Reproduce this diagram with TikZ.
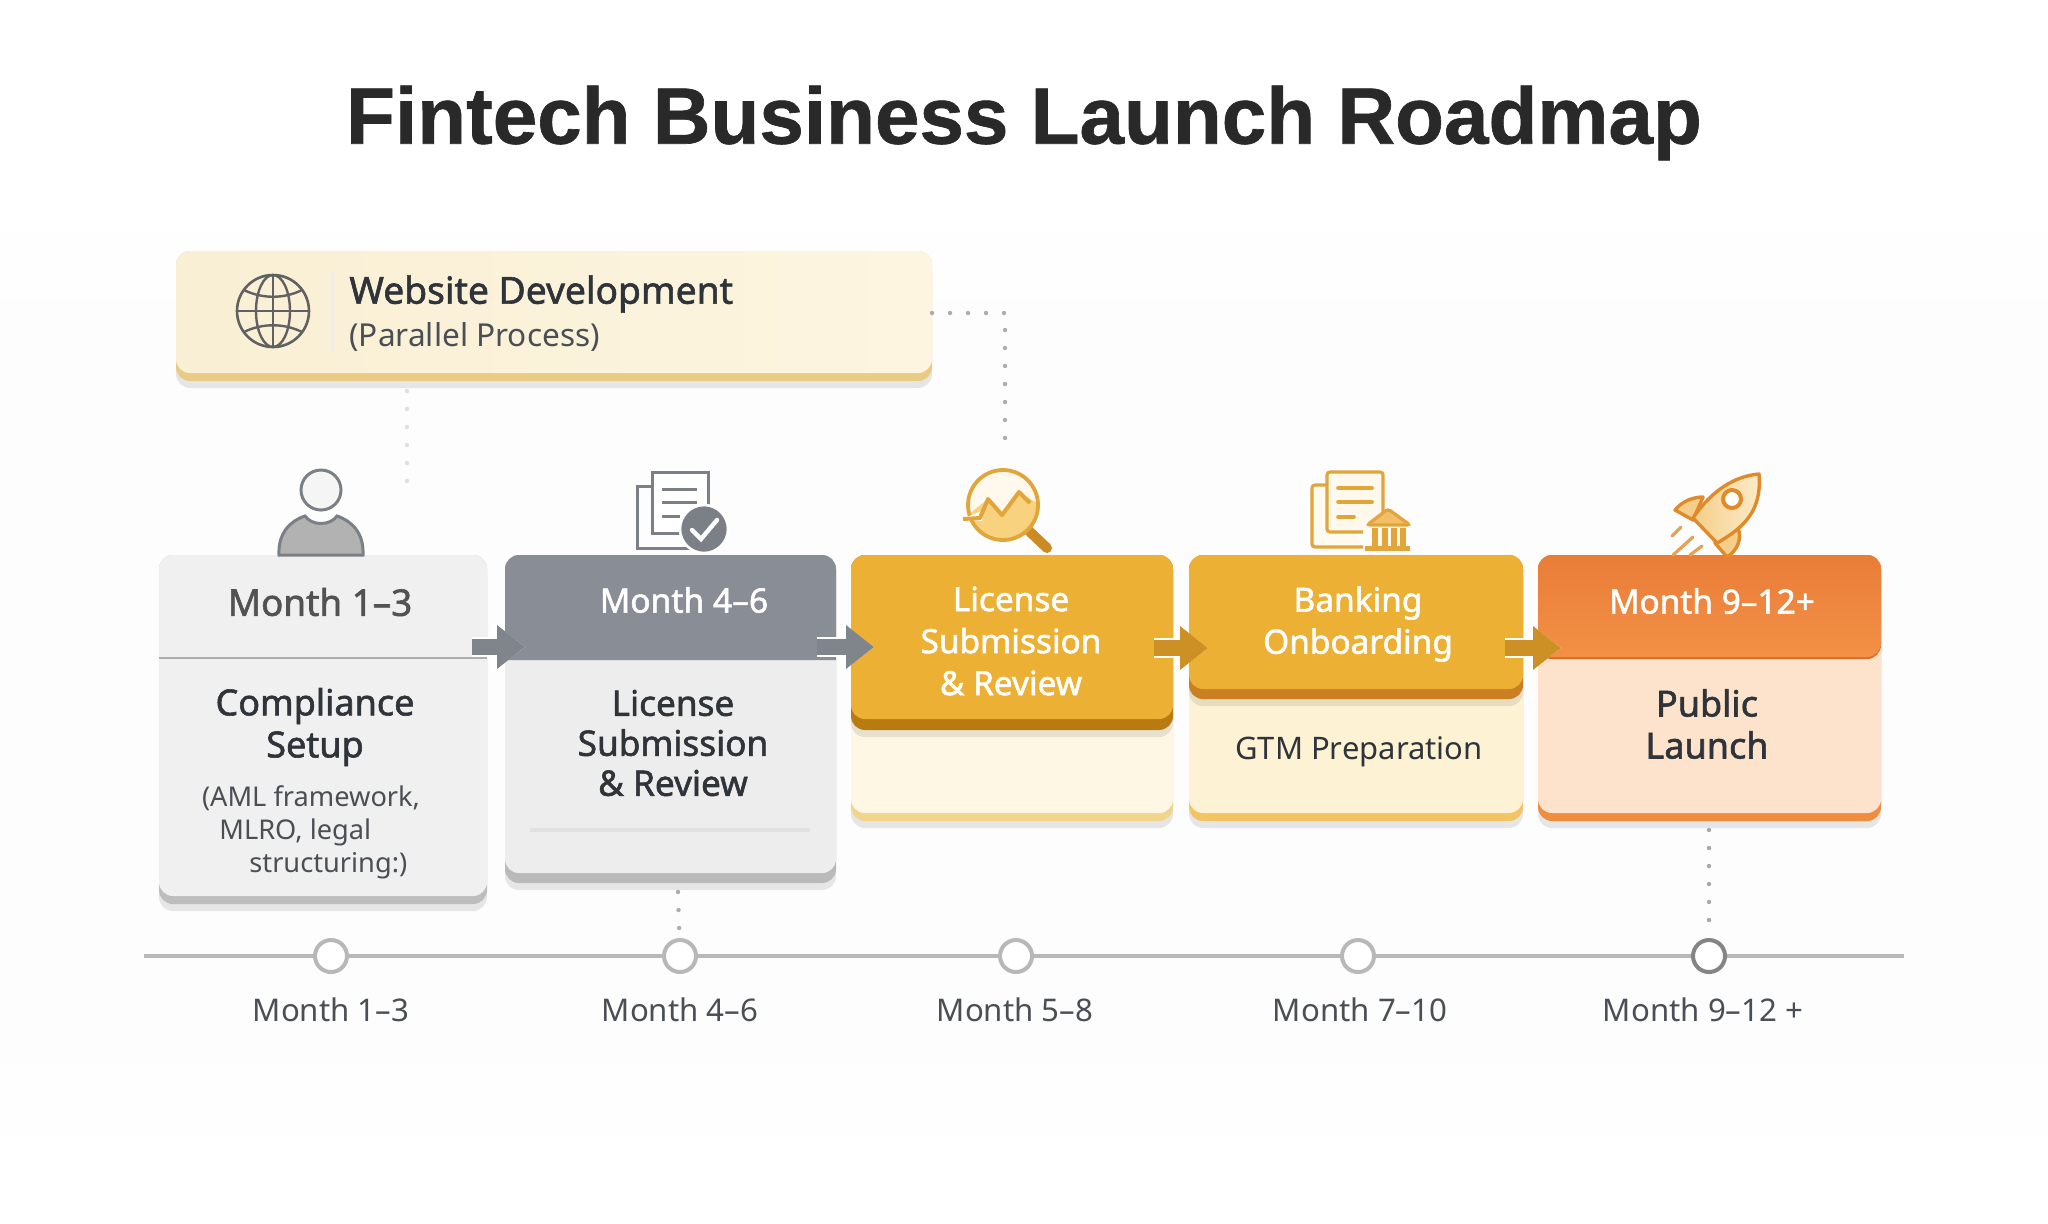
\documentclass[tikz,border=0pt]{standalone}
\usepackage{fontspec}
\setmainfont{Noto Sans}
\newfontfamily\titlefont{Liberation Sans}[BoldFeatures={FakeBold=0.8}]
\newfontfamily\medfont{Noto Sans}[FakeBold=1.6]
\usetikzlibrary{arrows.meta,shadows}

\definecolor{inkdark}{HTML}{2F343B}
\definecolor{inkmid}{HTML}{4A4E55}
\definecolor{greyicon}{HTML}{7B7F86}
\definecolor{greyhead}{HTML}{898D95}
\definecolor{greyarrow}{HTML}{80848B}
\definecolor{amber}{HTML}{ECB035}
\definecolor{amberdark}{HTML}{B97A12}
\definecolor{amberline}{HTML}{E2A53A}
\definecolor{amberarrow}{HTML}{CC9024}
\definecolor{orangeline}{HTML}{E08A2A}
\definecolor{webstrip}{HTML}{E8CB85}
\definecolor{webleft}{HTML}{F9EFD4}
\definecolor{webright}{HTML}{FDF5E0}
\definecolor{softC}{HTML}{F2D48C}
\definecolor{paleC}{HTML}{FEF7E3}
\definecolor{softD}{HTML}{F2C463}
\definecolor{paleD}{HTML}{FDF2D3}
\definecolor{darkD}{HTML}{C97F22}
\definecolor{softE}{HTML}{F08C3E}
\definecolor{paleE}{HTML}{FDE3CB}
\definecolor{darkE}{HTML}{D96E2A}
\definecolor{topE}{HTML}{E97D38}
\definecolor{lowE}{HTML}{F39046}
\definecolor{handle}{HTML}{CB8A24}
\definecolor{warm}{HTML}{F8D27F}
\definecolor{tintA}{HTML}{FFFAF0}
\definecolor{tintB}{HTML}{FFF8EC}
\definecolor{bank}{HTML}{F3BE68}
\definecolor{fin}{HTML}{F5CF8A}
\definecolor{nose}{HTML}{FDEBCB}

\tikzset{
	cardbase/.style={rectangle, rounded corners=7pt, inner sep=0pt, outer sep=0pt, drop shadow={shadow xshift=0pt, shadow yshift=-3.5pt, fill=black, opacity=0.09}},
	cardface/.style={rectangle, rounded corners=7pt, inner sep=0pt, outer sep=0pt},
	stepname/.style={font=\medfont\fontsize{18}{21}\selectfont, text=inkdark, align=center, inner sep=0pt},
	whitename/.style={font=\medfont\fontsize{16.7}{21}\selectfont, text=white, align=center, inner sep=0pt},
	detail/.style={font=\fontsize{13.6}{17}\selectfont, text=inkmid, inner sep=0pt},
	ticklabel/.style={font=\fontsize{15.6}{18}\selectfont, text=inkmid, inner sep=0pt},
	tickmark/.style={circle, draw=#1, line width=2pt, fill=white, minimum size=16pt, inner sep=0pt},
	dotline/.style={line width=2.2pt, line cap=round, dash pattern=on 0pt off 9pt, draw=#1},
	flowhalo/.style={line width=10pt, white, -{Triangle[length=17pt, width=25pt]}},
	flowarrow/.style={line width=8pt, draw=#1, -{Triangle[length=14pt, width=21pt, fill=#1]}},
	greyline/.style={draw=greyicon, line width=1.5pt},
	amberpen/.style={draw=amberline, line width=1.6pt, rounded corners=1.5pt},
	rocketpen/.style={draw=orangeline, line width=1.7pt, line join=round},
	trail/.style={draw=orangeline!80!white, line width=1.6pt, line cap=round},
}

\begin{document}
\begin{tikzpicture}[x=0.5pt, y=-0.5pt]
	\useasboundingbox (0,0) rectangle (2048,1223);
	\fill[white] (0,0) rectangle (2048,1223);
	\shade[top color=white, bottom color=black!0.6] (0,200) rectangle (2048,300);
	\fill[black!0.6] (0,300) rectangle (2048,1060);
	\shade[top color=black!0.6, bottom color=white] (0,1060) rectangle (2048,1170);

	\node[font=\titlefont\bfseries\fontsize{40}{48}\selectfont, text=black!84, inner sep=0pt] (title) at (1024,123) {Fintech Business Launch Roadmap};

	% website bar
	\node[cardbase, fill=webstrip, minimum width=378pt, minimum height=65pt] (webbase) at (554,316) {};
	\node[cardface, left color=webleft, right color=webright, minimum width=378pt, minimum height=61pt] (webface) at (554,312) {};
	\draw[black!8, line width=1pt] (333,272)--(333,352);
	\draw[draw=black!62, line width=1.3pt] (273,311) circle (36);
	\draw[draw=black!62, line width=1.2pt] (273,311) ellipse (17 and 36);
	\draw[draw=black!62, line width=1.2pt] (273,275)--(273,347);
	\draw[draw=black!62, line width=1.2pt] (237,311)--(309,311);
	\draw[draw=black!62, line width=1.2pt] (244,290) .. controls (262,299) and (284,299) .. (302,290);
	\draw[draw=black!62, line width=1.2pt] (244,332) .. controls (262,323) and (284,323) .. (302,332);
	\node[font=\medfont\fontsize{18.6}{22}\selectfont, text=inkdark, anchor=west, inner sep=0pt] (webname) at (349,294) {Website Development};
	\node[font=\fontsize{15.8}{20}\selectfont, text=inkmid, anchor=west, inner sep=0pt] (webnote) at (349,337) {(Parallel Process)};

	% cards
	\node[cardbase, fill=black!26, minimum width=164pt, minimum height=174.5pt] (baseA) at (323,729.5) {};
	\node[cardface, fill=black!6, minimum width=164pt, minimum height=170.5pt] (faceA) at (323,725.5) {};
	\draw[black!32, line width=1.2pt] (faceA.west |- 0,658)--(faceA.east |- 0,658);

	\node[cardbase, fill=black!27, minimum width=165.5pt, minimum height=164pt] (baseB) at (670.5,719) {};
	\node[cardface, fill=black!7, minimum width=165.5pt, minimum height=159pt] (faceB) at (670.5,714) {};
	\fill[greyhead] (505,660) [rounded corners=7pt] -- (505,555) -- (836,555) [sharp corners] -- (836,660) -- cycle;
	\draw[black!12, line width=2pt] (530,830)--(810,830);

	\node[cardbase, fill=softC, minimum width=161pt, minimum height=133pt] (baseC) at (1012,688) {};
	\node[cardface, fill=paleC, minimum width=161pt, minimum height=129pt] (faceC) at (1012,684) {};
	\node[cardbase, fill=amberdark, minimum width=161pt, minimum height=87.5pt] (headC) at (1012,642.5) {};
	\node[cardface, fill=amber, minimum width=161pt, minimum height=82pt] (topC) at (1012,637) {};

	\node[cardbase, fill=softD, minimum width=167pt, minimum height=133pt] (baseD) at (1356,688) {};
	\node[cardface, fill=paleD, minimum width=167pt, minimum height=129pt] (faceD) at (1356,684) {};
	\node[cardbase, fill=darkD, minimum width=167pt, minimum height=72pt] (headD) at (1356,627) {};
	\node[cardface, fill=amber, minimum width=167pt, minimum height=67pt] (topD) at (1356,622) {};

	\node[cardbase, fill=softE, minimum width=171.5pt, minimum height=133pt] (baseE) at (1709.5,688) {};
	\node[cardface, fill=paleE, minimum width=171.5pt, minimum height=129pt] (faceE) at (1709.5,684) {};
	\node[cardface, fill=darkE, minimum width=171.5pt, minimum height=52pt] (headE) at (1709.5,607) {};
	\node[cardface, top color=topE, bottom color=lowE, minimum width=171.5pt, minimum height=51pt] (topE) at (1709.5,606) {};

	% card text
	\node[stepname, font=\medfont\fontsize{18.4}{21}\selectfont, text=black!68] (monthA) at (320,602) {Month 1–3};
	\node[stepname] (nameA) at (315,727) {Compliance\\Setup};
	\node[detail] (noteA) at (311,798) {(AML framework,};
	\node[detail, anchor=west] (noteB) at (219,832) {MLRO, legal};
	\node[detail, anchor=west] (noteC) at (249,866) {structuring:)};

	\node[whitename, font=\medfont\fontsize{16.8}{21}\selectfont] (monthB) at (684,600) {Month 4–6};
	\node[stepname, font=\medfont\fontsize{17.6}{20}\selectfont] (nameB) at (673,743) {License\\Submission\\\& Review};

	\node[whitename] (nameC) at (1011,641) {License\\Submission\\\& Review};
	\node[whitename] (nameD) at (1358,624) {Banking\\Onboarding};
	\node[font=\fontsize{15.5}{19}\selectfont, text=inkdark, inner sep=0pt] (noteD) at (1359,752) {GTM Preparation};
	\node[whitename] (monthE) at (1712,601) {Month 9–12+};
	\node[stepname] (nameE) at (1707,724) {Public\\Launch};

	% block arrows
	\coordinate (outA) at (472,647); \coordinate (inB) at (525,647);
	\coordinate (outB) at (817,647); \coordinate (inC) at (874,647);
	\coordinate (outC) at (1154,648); \coordinate (inD) at (1208,648);
	\coordinate (outD) at (1505,648); \coordinate (inE) at (1561,648);
	\draw[flowhalo] (outA)--(inB);
	\draw[flowarrow=greyarrow] (outA)--(inB);
	\draw[flowhalo] (outB)--(inC);
	\draw[flowarrow=greyarrow] (outB)--(inC);
	\draw[flowhalo] (outC)--(inD);
	\draw[flowarrow=amberarrow] (outC)--(inD);
	\draw[flowhalo] (outD)--(inE);
	\draw[flowarrow=amberarrow] (outD)--(inE);

	% person
	\draw[greyline, fill=black!4] (321,490) circle (20);
	\draw[greyline, fill=black!30] (279,555) .. controls (278,533) and (290,521) .. (305,516) .. controls (312,526) and (330,526) .. (337,516) .. controls (352,521) and (364,533) .. (363,555) -- cycle;

	% documents with check
	\draw[greyline] (652,486)--(637,486)--(637,548)--(690,548);
	\draw[greyline, fill=white] (652,472) rectangle (708,533);
	\draw[greyline] (662,489)--(697,489);
	\draw[greyline] (662,502)--(697,502);
	\draw[greyline] (662,516)--(680,516);
	\draw[draw=white, line width=1.3pt, fill=greyicon] (704,529) circle (24);
	\draw[white, line width=2.2pt, line cap=round] (692,530)--(701,539)--(717,520);

	% magnifier
	\draw[draw=handle, line width=5pt, line cap=round] (1028,530)--(1047,548);
	\fill[tintB] (1003,505) circle (35);
	\begin{scope}
		\clip (1003,505) circle (35);
		\fill[warm] (963,519)--(988,499)--(1002,515)--(1019,492)--(1040,505)--(1040,545)--(963,545)--cycle;
	\end{scope}
	\draw[draw=amberline, line width=1.9pt] (1003,505) circle (35);
	\fill[white] (962,519)--(984,510)--(982,521)--cycle;
	\draw[draw=amberline, line width=2pt, line join=round] (963,519)--(980,518)--(988,499)--(1002,515)--(1019,492)--(1030,503);

	% documents with bank
	\draw[amberpen, fill=tintA] (1327,485)--(1312,485)--(1312,547)--(1363,547);
	\draw[amberpen, fill=tintB] (1363,532)--(1327,532)--(1327,472)--(1383,472)--(1383,512);
	\draw[amberpen, line cap=round, line width=1.8pt] (1338,488)--(1372,488);
	\draw[amberpen, line cap=round, line width=1.8pt] (1338,502)--(1372,502);
	\draw[amberpen, line cap=round, line width=1.8pt] (1338,517)--(1354,517);
	\draw[amberpen, fill=bank] (1367,525)--(1388,509)--(1410,525)--cycle;
	\fill[tintB] (1372,527) rectangle (1405,546);
	\draw[draw=amberline, line width=2.6pt] (1375,528)--(1375,546);
	\draw[draw=amberline, line width=2.6pt] (1385,528)--(1385,546);
	\draw[draw=amberline, line width=2.6pt] (1394,528)--(1394,546);
	\draw[draw=amberline, line width=2.6pt] (1403,528)--(1403,546);
	\fill[amberline] (1365,546) rectangle (1410,551);

	% rocket
	\draw[rocketpen, fill=fin] (1703,497) .. controls (1695,497) and (1683,500) .. (1675,510) -- (1693,520) -- cycle;
	\draw[rocketpen, fill=fin] (1738,528) .. controls (1742,538) and (1738,550) .. (1727,557) -- (1715,543) -- cycle;
	\draw[rocketpen, left color=fin, right color=nose] (1759,474) .. controls (1735,476) and (1712,490) .. (1693,518) -- (1717,543) .. controls (1745,527) and (1762,510) .. (1759,474) -- cycle;
	\draw[rocketpen, line width=2pt, fill=white] (1732,499) circle (9);
	\draw[trail] (1672,536)--(1681,527);
	\draw[trail] (1673,555)--(1693,537);
	\draw[trail] (1690,555)--(1702,546);

	% timeline
	\coordinate (lineL) at (144,956); \coordinate (lineR) at (1904,956);
	\draw[draw=black!28, line width=2pt] (lineL)--(lineR);
	\node[tickmark=black!28] (tickA) at (331,956) {};
	\node[tickmark=black!28] (tickB) at (680,956) {};
	\node[tickmark=black!28] (tickC) at (1016,956) {};
	\node[tickmark=black!28] (tickD) at (1358,956) {};
	\node[tickmark=black!48] (tickE) at (1709,956) {};
	\node[ticklabel] (labelA) at (331,1010) {Month 1–3};
	\node[ticklabel] (labelB) at (680,1010) {Month 4–6};
	\node[ticklabel] (labelC) at (1015,1010) {Month 5–8};
	\node[ticklabel] (labelD) at (1360,1010) {Month 7–10};
	\node[ticklabel] (labelE) at (1703,1010) {Month 9–12 +};

	% dotted links
	\coordinate (webturn) at (1005,313); \coordinate (webstop) at (1005,440);
	\coordinate (webdrop) at (407,391); \coordinate (webfade) at (407,482);
	\coordinate (cardBdrop) at (678,892); \coordinate (cardEdrop) at (1709,830);
	\draw[dotline=black!32] (webbase.east |- webturn)--(webturn)--(webstop);
	\draw[dotline=black!12] (webdrop)--(webfade);
	\draw[dotline=black!32, shorten >=2pt] (cardBdrop)--(tickB);
	\draw[dotline=black!34, shorten >=2pt] (cardEdrop)--(tickE);
\end{tikzpicture}
\end{document}
